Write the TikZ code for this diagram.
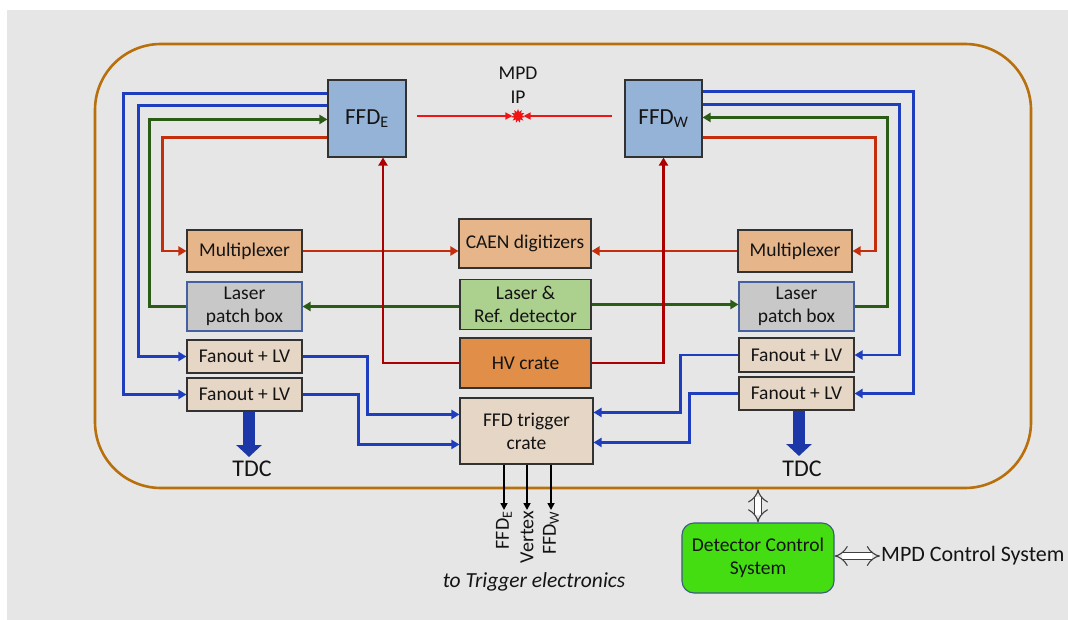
\documentclass[tikz,border=0pt]{standalone}
\usepackage{fontspec}
\setmainfont{Carlito}
\usetikzlibrary{arrows.meta,shapes.geometric}
\definecolor{bgc}{RGB}{230,230,230}
\definecolor{framec}{RGB}{184,112,12}
\definecolor{boxline}{RGB}{50,50,50}
\definecolor{txt}{RGB}{20,20,20}
\definecolor{ffdc}{RGB}{149,179,215}
\definecolor{muxc}{RGB}{230,182,138}
\definecolor{lpbc}{RGB}{200,200,200}
\definecolor{lpbline}{RGB}{70,95,160}
\definecolor{laserc}{RGB}{172,208,142}
\definecolor{hvc}{RGB}{224,142,72}
\definecolor{foc}{RGB}{230,214,198}
\definecolor{dcsc}{RGB}{68,221,17}
\definecolor{dcsline}{RGB}{60,90,130}
\definecolor{blc}{RGB}{30,62,190}
\definecolor{tdcc}{RGB}{28,56,168}
\definecolor{grc}{RGB}{42,92,22}
\definecolor{rdc}{RGB}{196,46,12}
\definecolor{drc}{RGB}{172,0,0}
\definecolor{ipc}{RGB}{240,20,20}
\begin{document}
\begin{tikzpicture}[x=1pt,y=-1pt,
  >={Triangle[length=8pt,width=9pt]},
  box/.style={draw=boxline,line width=1.1pt,align=center,inner sep=0pt,text=txt,
    font=\fontsize{19.5}{23}\selectfont},
  ffdbox/.style={box,fill=ffdc,minimum width=78pt,minimum height=77pt,font=\fontsize{23}{27}\selectfont},
  muxbox/.style={box,fill=muxc,minimum width=115pt,minimum height=42pt},
  lpbbox/.style={box,draw=lpbline,fill=lpbc,minimum width=115pt,minimum height=49pt},
  fobox/.style={box,fill=foc,minimum width=115pt,minimum height=33pt},
  cbox/.style={box,minimum width=132pt,minimum height=49pt},
  bl/.style={draw=blc,line width=2.6pt},
  gr/.style={draw=grc,line width=2.6pt},
  rd/.style={draw=rdc,line width=2.6pt},
  dr/.style={draw=drc,line width=2.6pt},
  tdcarrow/.style={draw=tdcc,line width=12pt,-{Triangle[length=12pt,width=25pt]}},
  ipline/.style={draw=ipc,line width=1.2pt,-{Triangle[length=7pt,width=7pt]}},
  outarrow/.style={draw=black,line width=1.6pt,-{Triangle[length=7pt,width=7pt]}},
  dbl/.style={draw=black!75,double=white,double distance=6pt,line width=1.1pt,{Implies}-{Implies}},
  lbl/.style={inner sep=1pt,text=txt}
]
\useasboundingbox (0,0) rectangle (1068,620);
\fill[white] (0,0) rectangle (1068,620);
\fill[bgc] (7,10) rectangle (1068,620);

% outer frame
\node[draw=framec,line width=2.6pt,rounded corners=66pt,minimum width=936pt,minimum height=444pt,inner sep=0pt] (frame) at (563,266) {};

% FFD boxes
\node[ffdbox] (ffde) at (367,118.5) {FFD\textsubscript{E}};
\node[ffdbox,minimum width=77pt] (ffdw) at (663.5,118.5) {FFD\textsubscript{W}};

% MPD IP
\node[lbl,align=center,font=\fontsize{19.5}{24}\selectfont] (mpd) at (518,85) {MPD\\IP};
\node[star,star points=11,star point ratio=1.7,fill=ipc,minimum size=14pt,inner sep=0pt] (ip) at (518,116) {};
\draw[ipline] ([xshift=10pt]ffde.east |- ip) -- (ip.west);
\draw[ipline] ([xshift=-12pt]ffdw.west |- ip) -- (ip.east);

% left column
\node[muxbox] (muxl) at (244.5,251) {Multiplexer};
\node[lpbbox] (lpbl) at (244.5,306.5) {Laser\\patch box};
\node[fobox] (fo1l) at (244.5,356.5) {Fanout + LV};
\node[fobox] (fo2l) at (244.5,394.5) {Fanout + LV};

% right column
\node[muxbox,minimum width=114pt] (muxr) at (795,251) {Multiplexer};
\node[lpbbox] (lpbr) at (796.5,306.5) {Laser\\patch box};
\node[fobox,minimum height=34pt] (fo1r) at (796.5,355) {Fanout + LV};
\node[fobox] (fo2r) at (796.5,393.5) {Fanout + LV};

% centre column
\node[cbox,fill=muxc] (caen) at (525,243.5) {CAEN digitizers};
\node[cbox,fill=laserc,minimum width=131pt,minimum height=50pt] (laser) at (525.5,304.5) {Laser \&\\Ref. detector};
\node[cbox,fill=hvc,minimum width=131pt,minimum height=50pt] (hv) at (525.5,363) {HV crate};
\node[cbox,fill=foc,minimum width=133pt,minimum height=66pt] (trig) at (526.5,431) {FFD trigger\\crate};

% TDC
\node[lbl,font=\fontsize{24}{28}\selectfont] (tdcl) at (252,469) {TDC};
\node[lbl,font=\fontsize{24}{28}\selectfont] (tdcr) at (802,469) {TDC};
\draw[tdcarrow] ([xshift=4.5pt]fo2l.south) -- ([xshift=4.5pt]fo2l.south |- 0,457);
\draw[tdcarrow] ([xshift=2.5pt]fo2r.south) -- ([xshift=2.5pt]fo2r.south |- 0,456);

% left connectors
\draw[bl,<-] (fo2l.west) -- ++(-63,0) |- ([yshift=-14pt]ffde.north west);
\draw[bl,<-] (fo1l.west) -- ++(-48,0) |- ([yshift=-26pt]ffde.north west);
\draw[gr,->] (lpbl.west) -- ++(-37,0) |- ([yshift=-40pt]ffde.north west);
\draw[rd,<-] (muxl.west) -- ++(-24,0) |- ([yshift=-58pt]ffde.north west);

% right connectors
\draw[bl,<-] (fo2r.east) -- ++(59,0) |- ([yshift=-12pt]ffdw.north east);
\draw[bl,<-] (fo1r.east) -- ++(45,0) |- ([yshift=-25pt]ffdw.north east);
\draw[gr,->] (lpbr.east) -- ++(33,0) |- ([yshift=-38pt]ffdw.north east);
\draw[rd,<-] (muxr.east) -- ++(23,0) |- ([yshift=-58pt]ffdw.north east);

% centre connectors
\draw[rd,->] (muxl.east) -- (muxl.east -| caen.west);
\draw[rd,->] (muxr.west) -- (muxr.west -| caen.east);
\draw[gr,->] ([yshift=-2pt]laser.west) -- ([yshift=-2pt]laser.west -| lpbl.east);
\draw[gr,->] (laser.east) -- (laser.east -| lpbr.west);
\draw[dr,->] (hv.west) -| ([xshift=16pt]ffde.south);
\draw[dr,->] (hv.east) -| (ffdw.south);

% fanout to trigger
\draw[bl,->] (fo1l.east) -- ++(65,0) |- ([yshift=-17pt]trig.north west);
\draw[bl,->] (fo2l.east) -- ++(56,0) |- ([yshift=-47pt]trig.north west);
\draw[bl,->] (fo1r.west) -- ++(-58,0) |- ([yshift=-15pt]trig.north east);
\draw[bl,->] (fo2r.west) -- ++(-49,0) |- ([yshift=-45pt]trig.north east);

% trigger outputs
\node[lbl,rotate=90,anchor=east,font=\fontsize{20}{24}\selectfont] (oe) at (504,510) {FFD\textsubscript{E}};
\node[lbl,rotate=90,anchor=east,font=\fontsize{20}{24}\selectfont] (ov) at (527,510) {Vertex};
\node[lbl,rotate=90,anchor=east,font=\fontsize{20}{24}\selectfont] (ow) at (551,510) {FFD\textsubscript{W}};
\draw[outarrow] (trig.south -| oe.east) -- (oe.east);
\draw[outarrow] (trig.south -| ov.east) -- (ov.east);
\draw[outarrow] (trig.south -| ow.east) -- (ow.east);
\node[lbl,font=\itshape\fontsize{21.5}{25}\selectfont] (toTrig) at (534,582) {to Trigger electronics};

% DCS
\node[box,draw=dcsline,fill=dcsc,rounded corners=12pt,minimum width=152pt,minimum height=70pt] (dcs) at (758,558) {Detector Control\\System};
\node[lbl,anchor=west,font=\fontsize{22}{26}\selectfont] (mcs) at (880,556) {MPD Control System};
\draw[dbl] (dcs.north) -- (dcs.north |- frame.south);
\draw[dbl] ([yshift=2pt]dcs.east) -- ([yshift=2pt]dcs.east -| mcs.west);
\end{tikzpicture}
\end{document}
